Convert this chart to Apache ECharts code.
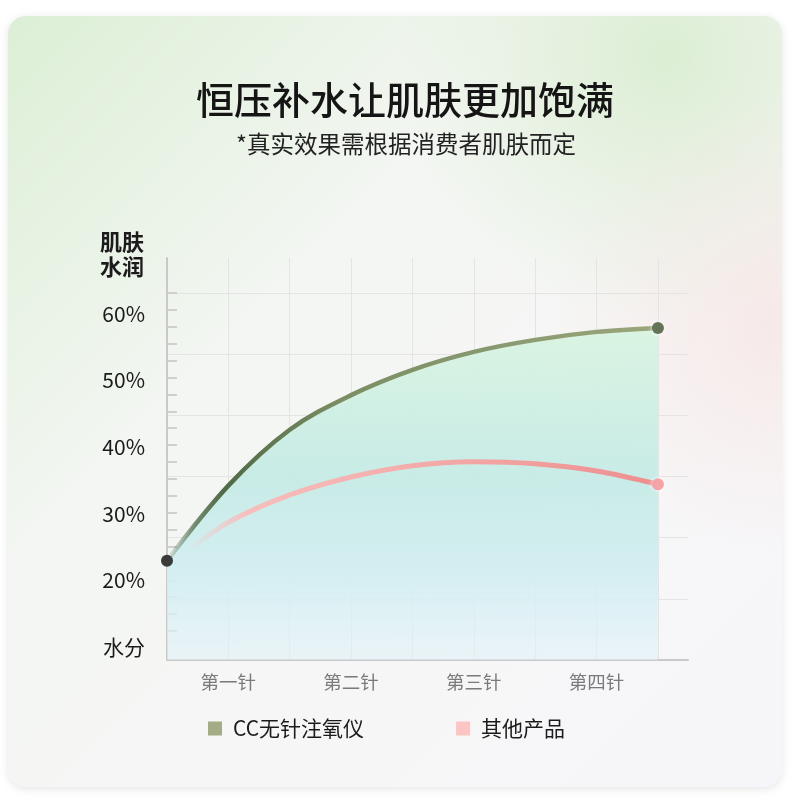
<!DOCTYPE html>
<html>
<head>
	<meta charset="utf-8">
	<title>恒压补水让肌肤更加饱满</title>
	<style>
		html, body { margin: 0; padding: 0; background: #fff; }
		#chart1 { width: 790px; height: 800px; }
	</style>
</head>

<body>
	<div id="chart1"></div>

	<script src="https://cdn.jsdelivr.net/npm/echarts@6.0.0/dist/echarts.min.js"></script>
	<script>

	// 横轴：0 为起点，8 为第四针末端，标签落在奇数位
	var labelPos  = [1, 3, 5, 7];
	var labelText = ['第一针', '第二针', '第三针', '第四针'];

	// 纵轴标签，10 显示为“水分”
	var yLabels = [10, 20, 30, 40, 50, 60];

	// CC无针注氧仪
	var ccX = [0, 1, 2, 3, 4, 5, 6, 7, 8];
	var ccY = [22.9, 34.2, 42.6, 47.8, 51.6, 54.3, 56.1, 57.3, 57.9];

	// 其他产品
	var otherX = [0.4, 1, 2, 3, 4, 5, 6, 7, 8];
	var otherY = [24.8, 28.7, 32.8, 35.5, 37.2, 37.8, 37.5, 36.4, 34.4];

	var FONT = '"Noto Sans CJK SC", "Noto Sans", sans-serif';
	var LG = echarts.graphic.LinearGradient;
	var RG = echarts.graphic.RadialGradient;

	function points(xs, ys, firstColor, lastColor) {
		var out = [];
		for (var i = 0; i < xs.length; i++) {
			var item = { value: [xs[i], ys[i]], symbol: 'none' };
			if (i === 0 && firstColor) {
				item.symbol = 'circle';
				item.symbolSize = 12;
				item.itemStyle = { color: firstColor };
			}
			if (i === xs.length - 1) {
				item.symbol = 'circle';
				item.symbolSize = 12;
				item.itemStyle = { color: lastColor, shadowBlur: 4, shadowColor: 'rgba(255,255,255,0.9)' };
			}
			out.push(item);
		}
		return out;
	}

	var myChart = echarts.init(document.getElementById('chart1'), null, { renderer: 'canvas' });

	var option = {
		backgroundColor: '#ffffff',
		animation: false,
		textStyle: { fontFamily: FONT },
		graphic: [
			{
				type: 'rect', z: -100, silent: true,
				shape: { x: 8, y: 16, width: 774, height: 771, r: 18 },
				style: {
					fill: new LG(0, 0, 1, 1, [
						{ offset: 0, color: '#dcefd5' },
						{ offset: 0.35, color: '#f3f6f2' },
						{ offset: 0.7, color: '#f7f6f7' },
						{ offset: 1, color: '#f6f6fa' }
					]),
					shadowBlur: 8, shadowOffsetY: 2, shadowColor: 'rgba(0,0,0,0.10)'
				}
			},
			{
				type: 'rect', z: -99, silent: true,
				shape: { x: 8, y: 16, width: 774, height: 771, r: 18 },
				style: {
					fill: new RG(0.85, 0.05, 0.35, [
						{ offset: 0, color: 'rgba(214,236,204,0.8)' },
						{ offset: 1, color: 'rgba(214,236,204,0)' }
					])
				}
			},
			{
				type: 'rect', z: -98, silent: true,
				shape: { x: 8, y: 16, width: 774, height: 771, r: 18 },
				style: {
					fill: new RG(1, 0.4, 0.3, [
						{ offset: 0, color: 'rgba(246,228,226,0.7)' },
						{ offset: 1, color: 'rgba(246,228,226,0)' }
					])
				}
			},
			{
				type: 'text', x: 405, y: 100, silent: true,
				style: {
					text: '恒压补水让肌肤更加饱满',
					font: '500 38px ' + FONT,
					fill: '#151515', align: 'center', verticalAlign: 'middle'
				}
			},
			{
				type: 'text', x: 406, y: 144, silent: true,
				style: {
					text: '*真实效果需根据消费者肌肤而定',
					font: '23.5px ' + FONT,
					fill: '#222', align: 'center', verticalAlign: 'middle'
				}
			},
			{
				type: 'text', x: 100, y: 254, silent: true,
				style: {
					text: '肌肤\n水润',
					font: 'bold 22px ' + FONT,
					lineHeight: 25,
					fill: '#1b1b1b', align: 'left', verticalAlign: 'middle'
				}
			}
		],
		grid: [
			{ left: 167, top: 258, right: 102, bottom: 140, containLabel: false },
			{ left: 167, top: 293, width: 10, height: 338, containLabel: false }
		],
		legend: {
			left: 208, top: 718, padding: 0,
			icon: 'rect', itemWidth: 14, itemHeight: 14, itemGap: 92,
			textStyle: { fontSize: 21, color: '#1b1b1b', fontFamily: FONT, padding: [0, 0, 0, 6] },
			data: ['CC无针注氧仪', '其他产品']
		},
		xAxis: [
			{
				type: 'value', gridIndex: 0, min: 0, max: 8.49, interval: 1,
				axisLine: { show: true, lineStyle: { color: '#c9c9c9', width: 2 } },
				axisTick: { show: false },
				splitLine: { show: true, showMaxLine: false, lineStyle: { color: '#e4e4e4', width: 1 } },
				axisLabel: {
					margin: 13, fontSize: 18.5, color: '#7a7a7a', fontFamily: FONT,
					formatter: function (v) {
						var i = labelPos.indexOf(v);
						return i >= 0 ? labelText[i] : '';
					}
				}
			},
			{ type: 'value', gridIndex: 1, min: 0, max: 1, show: false }
		],
		yAxis: [
			{
				type: 'value', gridIndex: 0, min: 8, max: 68.4,
				axisLine: { show: true, lineStyle: { color: '#c9c9c9', width: 2 } },
				axisTick: { show: false },
				splitLine: { show: false },
				axisLabel: {
					customValues: yLabels,
					margin: 22, fontSize: 21, color: '#1b1b1b', fontFamily: FONT,
					formatter: function (v) { return v === 10 ? '水分' : v + '%'; }
				}
			},
			{
				// 水平网格线
				type: 'value', gridIndex: 0, min: 0, max: 6.57, interval: 1,
				position: 'right',
				axisLine: { show: false }, axisTick: { show: false }, axisLabel: { show: false },
				splitLine: { show: true, showMinLine: false, showMaxLine: false, lineStyle: { color: '#e4e4e4', width: 1 } }
			},
			{
				// 纵轴上的短刻度
				type: 'value', gridIndex: 1, min: 0, max: 20, interval: 1, inverse: true,
				axisLine: { show: false }, axisLabel: { show: false }, splitLine: { show: false },
				axisTick: { show: true, inside: true, length: 10, lineStyle: { color: '#cfcfcf', width: 2 } }
			}
		],
		series: [
			{
				name: 'CC无针注氧仪', type: 'line', xAxisIndex: 0, yAxisIndex: 0,
				smooth: 0.35, z: 3,
				itemStyle: { color: '#a3ac84' },
				lineStyle: {
					width: 4.5,
					color: new LG(0, 0, 1, 0, [
						{ offset: 0, color: 'rgba(78,106,70,0.05)' },
						{ offset: 0.06, color: 'rgba(78,106,70,0.75)' },
						{ offset: 0.12, color: '#4e6a46' },
						{ offset: 0.35, color: '#7a8d63' },
						{ offset: 1, color: '#9aa67c' }
					])
				},
				areaStyle: {
					opacity: 0.95,
					color: new LG(0, 0, 0, 1, [
						{ offset: 0, color: '#d9f4e1' },
						{ offset: 0.45, color: '#c6ebe6' },
						{ offset: 0.75, color: '#d3eef2' },
						{ offset: 1, color: 'rgba(225,242,248,0.6)' }
					])
				},
				data: points(ccX, ccY, '#3a3a3a', '#637355')
			},
			{
				name: '其他产品', type: 'line', xAxisIndex: 0, yAxisIndex: 0,
				smooth: 0.35, z: 4,
				itemStyle: { color: '#fcc4c2' },
				lineStyle: {
					width: 5,
					color: new LG(0, 0, 1, 0, [
						{ offset: 0, color: 'rgba(251,190,188,0)' },
						{ offset: 0.12, color: 'rgba(251,185,183,0.9)' },
						{ offset: 1, color: '#ee8e8e' }
					])
				},
				data: points(otherX, otherY, null, '#f5a3a6')
			}
		]
	};

	myChart.setOption(option);

	</script>
</body>

</html>
